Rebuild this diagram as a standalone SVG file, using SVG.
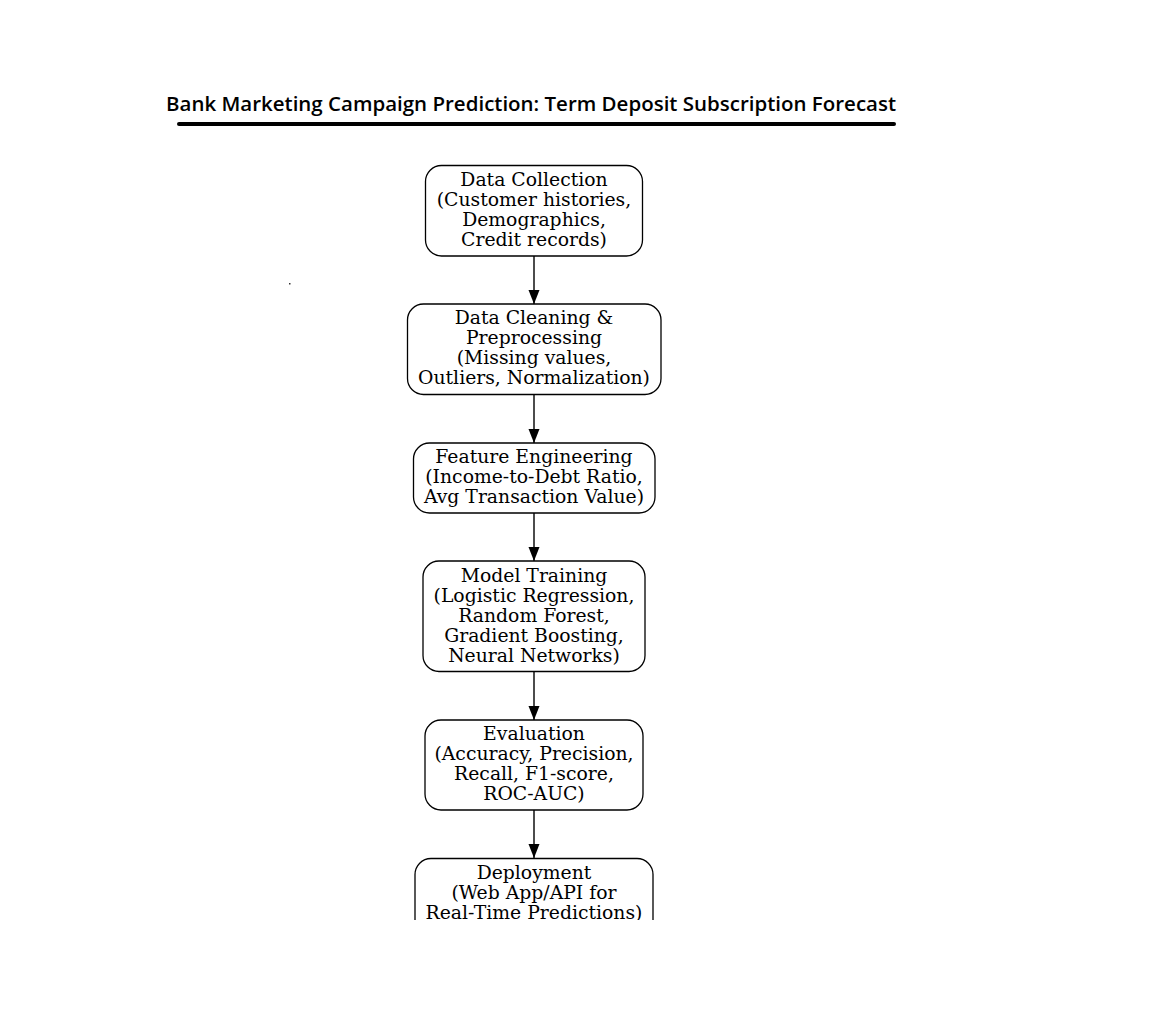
<svg xmlns="http://www.w3.org/2000/svg" width="1152" height="1030" viewBox="0 0 1152 1030">
<style>
.node rect{fill:#fff;stroke:#000;stroke-width:1.3}
.node text{font-family:"DejaVu Serif",serif;font-size:18.8px;fill:#000;text-anchor:middle}
.edge line{stroke:#111;stroke-width:1.5}
.title{font-family:"Open Sans","Liberation Sans",sans-serif;font-weight:600;font-size:20px;fill:#000}
</style>
<defs>
<marker id="arr" markerWidth="14" markerHeight="12" refX="14" refY="6" orient="auto" markerUnits="userSpaceOnUse">
<path d="M0,0.5 L14,6 L0,11.5 z" fill="#000"/>
</marker>
<clipPath id="clip"><rect x="0" y="0" width="1152" height="920"/></clipPath>
</defs>
<rect width="1152" height="1030" fill="#fff"/>
<g id="title">
<text class="title" x="166" y="111" textLength="730" lengthAdjust="spacingAndGlyphs">Bank Marketing Campaign Prediction: Term Deposit Subscription Forecast</text>
<line x1="179" y1="124" x2="894" y2="124" stroke="#000" stroke-width="4" stroke-linecap="round"/>
</g>
<rect x="289" y="283" width="1.5" height="1.5" fill="#333"/>
<g id="edges" class="edge">
<line x1="534" y1="256" x2="534" y2="304" marker-end="url(#arr)"/>
<line x1="534" y1="394" x2="534" y2="443" marker-end="url(#arr)"/>
<line x1="534" y1="513" x2="534" y2="561" marker-end="url(#arr)"/>
<line x1="534" y1="671" x2="534" y2="720" marker-end="url(#arr)"/>
<line x1="534" y1="810" x2="534" y2="858" marker-end="url(#arr)"/>
</g>
<g id="n1" class="node">
<rect x="425.5" y="165.5" width="217" height="90.5" rx="16"/>
<text x="534" y="186">Data Collection</text>
<text x="534" y="206">(Customer histories,</text>
<text x="534" y="226">Demographics,</text>
<text x="534" y="246">Credit records)</text>
</g>
<g id="n2" class="node">
<rect x="407.5" y="304" width="253.5" height="90.5" rx="16"/>
<text x="534" y="324">Data Cleaning &amp;</text>
<text x="534" y="344">Preprocessing</text>
<text x="534" y="364">(Missing values,</text>
<text x="534" y="384">Outliers, Normalization)</text>
</g>
<g id="n3" class="node">
<rect x="413.5" y="443" width="241.5" height="70" rx="16"/>
<text x="534" y="463">Feature Engineering</text>
<text x="534" y="483">(Income-to-Debt Ratio,</text>
<text x="534" y="503">Avg Transaction Value)</text>
</g>
<g id="n4" class="node">
<rect x="423" y="561" width="222" height="110.5" rx="16"/>
<text x="534" y="582">Model Training</text>
<text x="534" y="602">(Logistic Regression,</text>
<text x="534" y="622">Random Forest,</text>
<text x="534" y="642">Gradient Boosting,</text>
<text x="534" y="662">Neural Networks)</text>
</g>
<g id="n5" class="node">
<rect x="425" y="720" width="218" height="90" rx="16"/>
<text x="534" y="740">Evaluation</text>
<text x="534" y="760">(Accuracy, Precision,</text>
<text x="534" y="780">Recall, F1-score,</text>
<text x="534" y="800">ROC-AUC)</text>
</g>
<g id="n6" class="node" clip-path="url(#clip)">
<rect x="415" y="858.5" width="238" height="90" rx="16"/>
<text x="534" y="879">Deployment</text>
<text x="534" y="899">(Web App/API for</text>
<text x="534" y="919">Real-Time Predictions)</text>
</g>
</svg>
